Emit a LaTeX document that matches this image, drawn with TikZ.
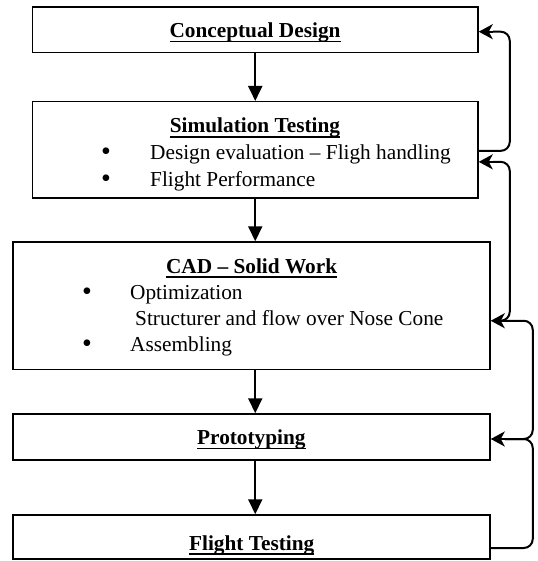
\documentclass[tikz,border=0pt]{standalone}
\usepackage{fontspec}
\setmainfont{Liberation Serif}
\usetikzlibrary{arrows.meta,calc}
\newcommand\myul[1]{\leavevmode\setbox0\hbox{#1}\rlap{\rule[-4.6pt]{\wd0}{1.4pt}}\box0}
\begin{document}
\begin{tikzpicture}[x=1pt,y=-1pt,
  box/.style={draw, line width=1.5pt, inner sep=0pt},
  title/.style={anchor=base, inner sep=0pt, font=\fontsize{21.3}{25}\selectfont\bfseries},
  txt/.style={anchor=base west, inner sep=0pt, font=\fontsize{21.3}{25}\selectfont},
  bul/.style={anchor=base, inner sep=0pt, font=\fontsize{28}{30}\selectfont},
  down/.style={line width=2pt, -{Triangle[length=15pt,width=14pt]}},
  fbline/.style={line width=2pt, rounded corners=9pt},
  fbtip/.style={line width=2pt, -{Stealth[length=14pt,width=15pt,inset=4pt]}}]
\useasboundingbox (0,0) rectangle (537,561);

% boxes
\node[box, minimum width=445.5pt, minimum height=45.4pt] (conc) at (255.25,29.7) {};
\node[box, minimum width=445.5pt, minimum height=96.3pt] (sim) at (255.25,149.85) {};
\node[box, minimum width=477pt, minimum height=127.5pt] (cad) at (251.5,305.75) {};
\node[box, minimum width=477pt, minimum height=46pt] (proto) at (251.5,437) {};
\node[box, minimum width=477pt, minimum height=44pt] (flight) at (251.5,537) {};

% texts
\node[title] (t1) at (255,37.7) {\myul{Conceptual Design}};
\node[title] (t2) at (255,133) {\myul{Simulation Testing}};
\node[bul] (s1) at (106,161) {\textbullet};
\node[txt] (s1t) at (150,160) {Design evaluation – Fligh handling};
\node[bul] (s2) at (106,187) {\textbullet};
\node[txt] (s2t) at (150,186) {Flight Performance};

\node[title] (t3) at (251.6,273) {\myul{CAD – Solid Work}};
\node[bul] (c1) at (87,300) {\textbullet};
\node[txt] (c1t) at (130,299) {Optimization};
\node[txt] (c2t) at (135,325) {Structurer and flow over Nose Cone};
\node[bul] (c3) at (87,352.7) {\textbullet};
\node[txt] (c3t) at (130,351.7) {Assembling};

\node[title] (t4) at (251.4,444.7) {\myul{Prototyping}};
\node[title] (t5) at (251.7,550) {\myul{Flight Testing}};

% main flow
\draw[down] (conc.south) -- (sim.north);
\draw[down] (sim.south) -- (sim.south |- cad.north);
\draw[down] (cad.south -| sim.south) -- (sim.south |- proto.north);
\draw[down] (proto.south -| sim.south) -- (sim.south |- flight.north);

% feedback lines
\draw[fbline] ([yshift=-1pt]sim.east) -- ++(31,0) |- ([yshift=-2pt,xshift=14pt]conc.east);
\draw[fbline] ([yshift=-15pt,xshift=14pt]cad.east) -- ++(5,0) |- ([yshift=-12pt,xshift=14pt]sim.east);
\draw[fbline] ([yshift=-2pt,xshift=14pt]proto.east) -- ++(28,0) |- ([yshift=-15pt,xshift=14pt]cad.east);
\draw[fbline] ([yshift=-11pt]flight.east) -- ++(42,0) |- ([yshift=-2pt,xshift=14pt]proto.east);
% feedback tips
\draw[fbtip] ([yshift=-2pt,xshift=14pt]conc.east) -- ([yshift=-2pt]conc.east);
\draw[fbtip] ([yshift=-12pt,xshift=14pt]sim.east) -- ([yshift=-12pt]sim.east);
\draw[fbtip] ([yshift=-15pt,xshift=14pt]cad.east) -- ([yshift=-15pt]cad.east);
\draw[fbtip] ([yshift=-2pt,xshift=14pt]proto.east) -- ([yshift=-2pt]proto.east);
\end{tikzpicture}
\end{document}
